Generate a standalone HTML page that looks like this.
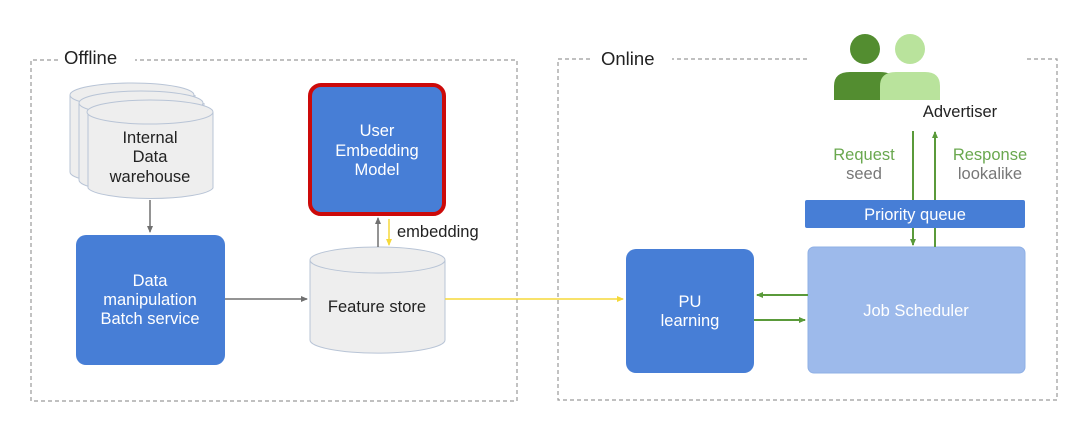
<!DOCTYPE html>
<html><head><meta charset="utf-8"><style>
body{margin:0;background:#fff;}
svg text{font-family:"Liberation Sans","Noto Sans CJK KR",sans-serif;}
</style></head><body>
<svg width="1074" height="434" viewBox="0 0 1074 434" xmlns="http://www.w3.org/2000/svg">
<defs>
<marker id="ag" markerWidth="8" markerHeight="8" refX="6" refY="4" orient="auto" markerUnits="userSpaceOnUse"><path d="M0,1 L7,4 L0,7 z" fill="#707070"/></marker>
<marker id="ay" markerWidth="8" markerHeight="8" refX="6" refY="4" orient="auto" markerUnits="userSpaceOnUse"><path d="M0,1 L7,4 L0,7 z" fill="#f5d93a"/></marker>
<marker id="agr" markerWidth="8" markerHeight="8" refX="6" refY="4" orient="auto" markerUnits="userSpaceOnUse"><path d="M0,1 L7,4 L0,7 z" fill="#5a9a3a"/></marker>
</defs>
<path d="M58,60 H31 V401 H517 V60 H135" fill="none" stroke="#9a9a9a" stroke-width="1.2" stroke-dasharray="4,3"/>
<text x="64" y="64" font-size="18.5" fill="#222">Offline</text>
<path d="M590,59 H558 V400 H1057 V59 H1024 M807,59 H672" fill="none" stroke="#9a9a9a" stroke-width="1.2" stroke-dasharray="4,3"/>
<text x="601" y="65" font-size="18.5" fill="#222">Online</text>

<g fill="#eeeeee" stroke="#b8c4d6" stroke-width="1">
<path d="M70,95 V172 A62,12 0 0 0 195,172 V95"/><ellipse cx="132" cy="95" rx="62" ry="12"/>
<path d="M79,103 V180 A62,12 0 0 0 204,180 V103"/><ellipse cx="141" cy="103" rx="62" ry="12"/>
<path d="M88,112 V188 A63,12 0 0 0 213,188 V112"/><ellipse cx="150" cy="112" rx="63" ry="12"/>
</g>
<text font-size="16.5" fill="#222" text-anchor="middle"><tspan x="150" y="143">Internal</tspan><tspan x="150" y="162">Data</tspan><tspan x="150" y="182">warehouse</tspan></text>
<line x1="150" y1="200" x2="150" y2="232" stroke="#707070" stroke-width="1.5" marker-end="url(#ag)"/>

<rect x="76" y="235" width="149" height="130" rx="10" fill="#477ed6"/>
<text font-size="16.5" fill="#fff" text-anchor="middle"><tspan x="150" y="286">Data</tspan><tspan x="150" y="305">manipulation</tspan><tspan x="150" y="324">Batch service</tspan></text>
<line x1="225" y1="299" x2="307" y2="299" stroke="#707070" stroke-width="1.5" marker-end="url(#ag)"/>

<g fill="#eeeeee" stroke="#b8c4d6" stroke-width="1">
<path d="M310,260 V340 A67,13 0 0 0 445,340 V260"/><ellipse cx="377.5" cy="260" rx="67.5" ry="13"/>
</g>
<text x="377" y="312" font-size="16.5" fill="#222" text-anchor="middle">Feature store</text>

<rect x="310" y="85" width="134" height="129" rx="11" fill="#477ed6" stroke="#cc0a0a" stroke-width="4"/>
<text font-size="16.5" fill="#fff" text-anchor="middle"><tspan x="377" y="136">User</tspan><tspan x="377" y="156">Embedding</tspan><tspan x="377" y="175">Model</tspan></text>
<line x1="378" y1="247" x2="378" y2="218" stroke="#707070" stroke-width="1.5" marker-end="url(#ag)"/>
<line x1="389" y1="219" x2="389" y2="245" stroke="#f5d93a" stroke-width="1.5" marker-end="url(#ay)"/>
<text x="397" y="237" font-size="16.5" fill="#222">embedding</text>

<line x1="445" y1="299" x2="623" y2="299" stroke="#f5d93a" stroke-width="1.5" marker-end="url(#ay)"/>

<rect x="626" y="249" width="128" height="124" rx="10" fill="#477ed6"/>
<text font-size="16.5" fill="#fff" text-anchor="middle"><tspan x="690" y="307">PU</tspan><tspan x="690" y="326">learning</tspan></text>

<rect x="808" y="247" width="217" height="126" rx="6" fill="#9dbaeb" stroke="#8fb0e6" stroke-width="1"/>
<text x="916" y="316" font-size="16.5" fill="#fff" text-anchor="middle">Job Scheduler</text>

<line x1="808" y1="295" x2="757" y2="295" stroke="#5a9a3a" stroke-width="2" marker-end="url(#agr)"/>
<line x1="754" y1="320" x2="805" y2="320" stroke="#5a9a3a" stroke-width="2" marker-end="url(#agr)"/>

<line x1="913" y1="131" x2="913" y2="245" stroke="#5a9a3a" stroke-width="2" marker-end="url(#agr)"/>
<line x1="935" y1="247" x2="935" y2="132" stroke="#5a9a3a" stroke-width="2" marker-end="url(#agr)"/>

<rect x="805" y="200" width="220" height="28" rx="2" fill="#477ed6"/>
<text x="915" y="220" font-size="16.5" fill="#fff" text-anchor="middle">Priority queue</text>

<text x="864" y="160" font-size="16.5" fill="#6aa84f" text-anchor="middle">Request</text>
<text x="864" y="179" font-size="16.5" fill="#777" text-anchor="middle">seed</text>
<text x="990" y="160" font-size="16.5" fill="#6aa84f" text-anchor="middle">Response</text>
<text x="990" y="179" font-size="16.5" fill="#777" text-anchor="middle">lookalike</text>

<circle cx="865" cy="49" r="15" fill="#538d30"/>
<path d="M834,100 V86 Q834,72 850,72 H880 Q896,72 896,86 V100 z" fill="#538d30"/>
<circle cx="910" cy="49" r="15" fill="#b9e39c"/>
<path d="M880,100 V86 Q880,72 896,72 H925 Q940,72 940,86 V100 z" fill="#b9e39c"/>
<text x="960" y="117" font-size="16.5" fill="#222" text-anchor="middle">Advertiser</text>
</svg>
</body></html>
